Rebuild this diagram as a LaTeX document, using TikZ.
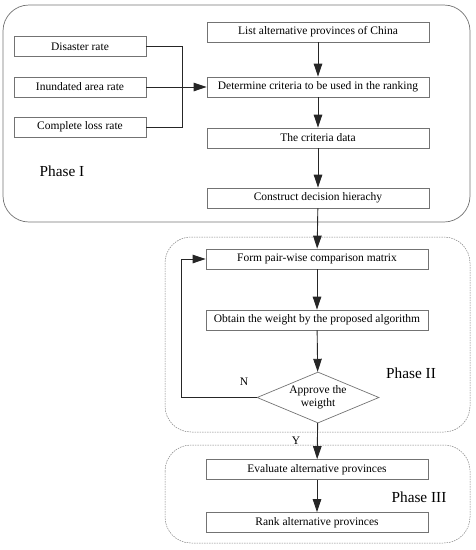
\documentclass[tikz,border=0pt]{standalone}
\usepackage{fontspec}
\setmainfont{Liberation Serif}
\usetikzlibrary{arrows.meta,shapes.geometric}
\begin{document}
\begin{tikzpicture}[x=1pt,y=-1pt,
  txt/.style={font=\fontsize{11.5}{13}\selectfont},
  box/.style={txt,draw=black!55,line width=0.7pt,minimum width=222pt,minimum height=20pt,inner sep=0pt},
  lbox/.style={txt,draw=black!55,line width=0.7pt,minimum width=132pt,minimum height=20pt,inner sep=0pt},
  conn/.style={draw=black!85,line width=0.9pt},
  arr/.style={conn,-{Triangle[length=13pt,width=8.5pt]}},
  phase/.style={font=\fontsize{15.3}{17}\selectfont},
  solidgroup/.style={draw=black!55,line width=0.7pt,rounded corners=26pt},
  dashgroup/.style={draw=black!50,line width=0.5pt,dash pattern=on 1.5pt off 1pt,rounded corners=26pt},
  dec/.style={txt,diamond,draw=black!55,line width=0.7pt,inner sep=0pt,aspect=2.4,align=center}
]
\useasboundingbox (0,0) rectangle (476,550);
% groups
\draw[solidgroup] (3,5) rectangle (470,222);
\draw[dashgroup] (165,237) rectangle (470,432);
\draw[dashgroup] (165,445) rectangle (470,543);
% phase I
\node[lbox] (dis) at (80,46.5) {Disaster rate};
\node[lbox] (inu) at (80,87) {Inundated area rate};
\node[lbox] (com) at (80,127) {Complete loss rate};
\node[box] (list) at (318,32) {List alternative provinces of China};
\node[box] (det) at (318,87) {Determine criteria to be used in the ranking};
\node[box] (crit) at (318,138) {The criteria data};
\node[box] (cons) at (318,198) {Construct decision hierachy};
\node[phase] (p1) at (62,171) {Phase I};
\coordinate (j) at (182,87);
\draw[conn] (dis.east) -| (j);
\draw[conn] (com.east) -| (j);
\draw[arr] (inu.east) -- (det.west);
\draw[arr] (list) -- (det);
\draw[arr] (det) -- (crit);
\draw[arr] (crit) -- (cons);
% phase II
\node[box] (form) at (317,259) {Form pair-wise comparison matrix};
\node[box] (obt) at (317,320) {Obtain the weight by the proposed algorithm};
\node[dec,minimum width=122pt,minimum height=51pt] (app) at (318,397.5) {Approve the\\weigtht};
\node[phase] (p2) at (411,373) {Phase II};
\node[txt] (n) at (244,382) {N};
\coordinate (fb) at (181,259);
\draw[arr] (cons) -- (form);
\draw[arr] (form) -- (obt);
\draw[arr] (obt) -- (app);
\draw[conn] (app.west) -| (fb);
\draw[arr] (fb) -- (form.west);
% phase III
\node[box] (eval) at (317,469.5) {Evaluate alternative provinces};
\node[box] (rank) at (317,522.5) {Rank alternative provinces};
\node[phase] (p3) at (419,497) {Phase III};
\node[txt] (y) at (296,441) {Y};
\draw[arr] (app) -- (eval);
\draw[arr] (eval) -- (rank);
\end{tikzpicture}
\end{document}
